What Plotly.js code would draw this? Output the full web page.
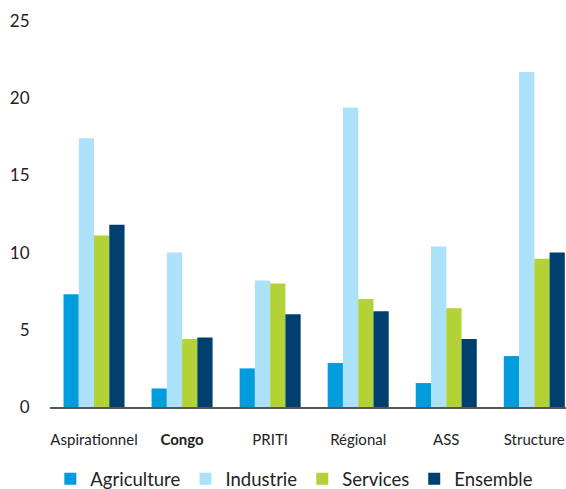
<!DOCTYPE html>
<html>
<head>
<meta charset="utf-8">
<script src="https://cdn.plot.ly/plotly-3.0.1.min.js"></script>
<style>html,body{margin:0;padding:0;background:#fff;}#chart{width:566px;height:489px;}</style>
</head>
<body>
<div id="chart"></div>
<script>
const categories = ["Aspirationnel", "Congo", "PRITI", "Régional", "ASS", "Structure"];
const tickLabels = ["Aspirationnel", "<b>Congo</b>", "PRITI", "Régional", "ASS", "Structure"];
const agriculture = [7.3, 1.2, 2.5, 2.85, 1.55, 3.3];
const industrie = [17.4, 10.0, 8.2, 19.4, 10.4, 21.7];
const services = [11.1, 4.4, 8.0, 7.0, 6.4, 9.6];
const ensemble = [11.8, 4.5, 6.0, 6.2, 4.4, 10.0];
const seriesNames = ["Agriculture", "Industrie", "Services", "Ensemble"];
const yTicks = [0, 5, 10, 15, 20, 25];

const colors = ["#009CDE", "#ABE2FA", "#B2D235", "#00406F"];
const values = [agriculture, industrie, services, ensemble];

const traces = values.map((v, i) => ({
  type: "bar",
  name: seriesNames[i],
  x: categories,
  y: v,
  marker: {color: colors[i]},
  hoverinfo: "skip"
}));

const layout = {
  width: 566, height: 489,
  margin: {l: 50, r: 0, t: 21, b: 82},
  barmode: "group",
  bargap: 0.307,
  bargroupgap: 0,
  paper_bgcolor: "#fff",
  plot_bgcolor: "#fff",
  font: {family: "Lato, 'Open Sans', sans-serif", color: "#222"},
  xaxis: {
    type: "category",
    range: [-0.5, 5.36],
    tickvals: categories,
    ticktext: tickLabels,
    tickfont: {size: 15, color: "#222"},
    showline: true, linecolor: "#555", linewidth: 1.5,
    ticks: "outside", ticklen: 18, tickcolor: "rgba(0,0,0,0)",
    showgrid: false, zeroline: false, fixedrange: true
  },
  yaxis: {
    range: [0, 25],
    tickvals: yTicks,
    tickfont: {size: 17, color: "#222"},
    showgrid: false, zeroline: false, showline: false,
    ticks: "outside", ticklen: 16, tickcolor: "rgba(0,0,0,0)",
    fixedrange: true
  },
  showlegend: true,
  legend: {
    orientation: "h",
    xref: "container", yref: "container",
    x: 0.52, xanchor: "center",
    y: 0.02, yanchor: "middle",
    font: {size: 18.5, color: "#222"},
    itemwidth: 30,
    traceorder: "normal"
  }
};

Plotly.newPlot("chart", traces, layout, {displayModeBar: false, staticPlot: true});
</script>
</body>
</html>
